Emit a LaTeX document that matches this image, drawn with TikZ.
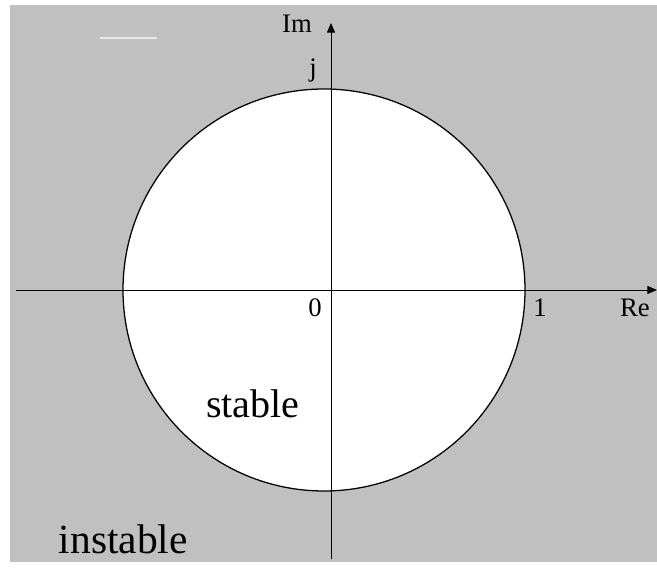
\documentclass[tikz,border=0pt]{standalone}
\usepackage{fontspec}
\setmainfont{Liberation Serif}
\usetikzlibrary{arrows.meta,positioning}
\definecolor{planegray}{RGB}{192,192,192}
\definecolor{marktext}{RGB}{232,232,232}
\tikzset{
  axis/.style={line width=.6pt,-{Triangle[length=.24cm,width=.2cm]}},
  lbl/.style={anchor=base,inner sep=0pt,font=\fontsize{19}{22}\selectfont},
  region/.style={anchor=base,inner sep=0pt,font=\fontsize{28.5}{33}\selectfont}
}
\begin{document}
\begin{tikzpicture}[x=1cm,y=1cm]
\useasboundingbox (-8.275,-7.05) rectangle (8.15,7.25);
\fill[planegray] (-8.025,-6.8) rectangle (8.15,7.125);
\draw[marktext,line width=1.3pt] (-5.775,6.3)--(-4.35,6.3);
% unit circle
\filldraw[fill=white,draw=black,line width=.9pt] (-.175,0) circle (5.025);
\coordinate (reL) at (-7.875,0);
\coordinate (reR) at (8.15,0);
\coordinate (imB) at (0,-6.725);
\coordinate (imT) at (0,6.675);
\draw[axis] (reL)--(reR);
\draw[axis] (imB)--(imT);
\node[lbl] (im) at (-.85,6.425){Im};
\node[lbl] (jj) at (-.45,5.33){j};
\node[lbl] (zero) at (-.4,-.675){0};
\node[lbl] (one) at (5.225,-.675){1};
\node[lbl] (re) at (7.6,-.675){Re};
\node[region] (stab) at (-1.95,-3.2){stable};
\node[region,font=\fontsize{29.5}{34}\selectfont] (instab) at (-5.19,-6.6){instable};
\end{tikzpicture}
\end{document}
